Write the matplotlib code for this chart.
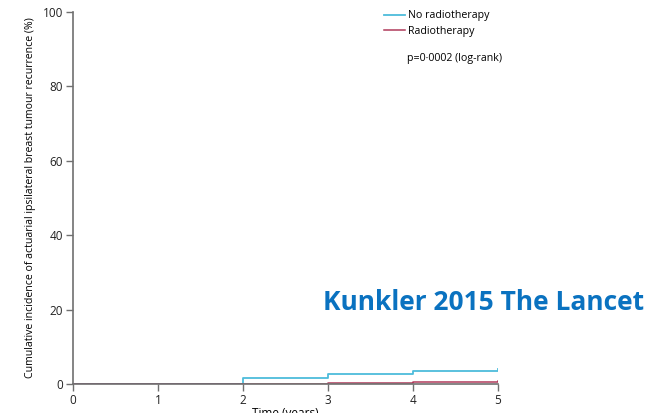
import matplotlib
matplotlib.use("Agg")
import matplotlib.pyplot as plt

plt.rcParams['font.family'] = ['Open Sans', 'DejaVu Sans']

# step data (years, cumulative %)
times = [0, 1, 2, 3, 4, 5]
no_rt = [0, 0.1, 1.7, 2.7, 3.6, 3.9]
rt = [0, 0, 0, 0.2, 0.6, 0.9]
xticks = [0, 1, 2, 3, 4, 5]
yticks = [0, 20, 40, 60, 80, 100]

blue = '#4dbcdb'
red = '#a3183f'
grey = '#707070'

fig = plt.figure(figsize=(6.51, 4.13), dpi=100)
ax = fig.add_axes([73 / 651, 29 / 413, 425 / 651, 372 / 413])

ax.plot(times, no_rt, drawstyle='steps-post', color=blue, lw=1.3, label='No radiotherapy')
ax.plot(times, rt, drawstyle='steps-post', color=red, lw=1.1, alpha=0.85, label='Radiotherapy')

ax.set_xlim(0, 5)
ax.set_ylim(0, 100)
ax.set_xticks(xticks)
ax.set_yticks(yticks)
for s in ['top', 'right']:
    ax.spines[s].set_visible(False)
for s in ['left', 'bottom']:
    ax.spines[s].set_color(grey)
    ax.spines[s].set_linewidth(1.2)
ax.tick_params(direction='out', length=5, width=1, color=grey, labelsize=8.5, colors='#222222', pad=2)
ax.set_xlabel('Time (years)', fontsize=8.5, labelpad=0)
ax.set_ylabel('Cumulative incidence of actuarial ipsilateral breast tumour recurrence (%)', fontsize=7.6, labelpad=5)

leg = ax.legend(loc='upper left', bbox_to_anchor=(0.71, 1.03), frameon=False, fontsize=7.7,
                handlelength=1.9, handletextpad=0.3, labelspacing=0.4)
ax.text(0.786, 0.868, 'p=0·0002 (log-rank)', transform=ax.transAxes, fontsize=7.7)

fig.text(484 / 651, 1 - 303 / 413, 'Kunkler 2015 The Lancet', ha='center', va='center',
         fontsize=19, fontweight='bold', color='#0a72c0')

fig.savefig('out.png', dpi=100)
